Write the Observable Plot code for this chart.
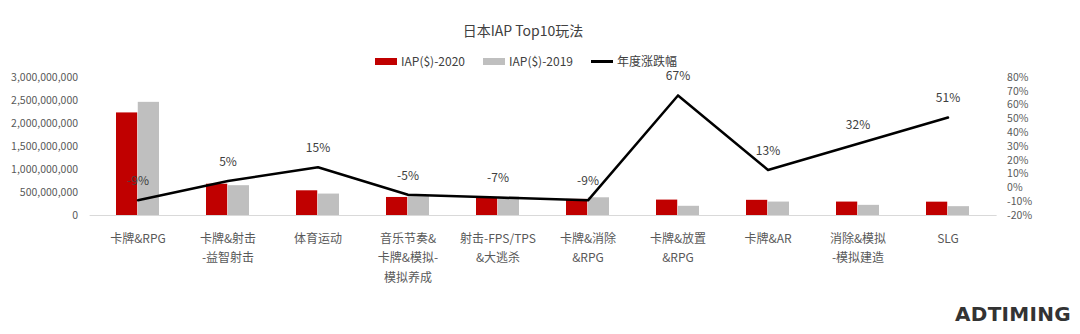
<!DOCTYPE html>
<html><head><meta charset="utf-8">
<script src="https://cdn.jsdelivr.net/npm/d3@7"></script>
<script src="https://cdn.jsdelivr.net/npm/@observablehq/plot@0.6"></script>
<style>
body{margin:0;background:#fff;font-family:"Noto Sans CJK SC","Noto Sans",sans-serif;}
#wrap{position:relative;width:1080px;height:334px;overflow:hidden;}
#title{position:absolute;left:0;top:20px;width:1046px;text-align:center;font-size:14px;line-height:20px;color:#404040;}
#legend{position:absolute;left:0;top:51px;width:1046px;display:flex;justify-content:center;align-items:center;font-size:12px;line-height:20px;color:#404040;padding-left:6px;box-sizing:border-box;z-index:2;}
.item{display:flex;align-items:center;margin:0 9px;}
.sw{display:inline-block;width:22px;height:7px;margin-right:4px;}
.ln{display:inline-block;width:22px;height:3px;background:#000;margin-right:4px;}
#chart{position:absolute;left:0;top:45px;z-index:1;}
#logo{position:absolute;left:955px;top:302px;font-size:20px;font-weight:bold;letter-spacing:0.3px;color:#333;font-family:"DejaVu Sans","Noto Sans",sans-serif;white-space:nowrap;}
</style></head>
<body><div id="wrap">
<div id="title">日本IAP Top10玩法</div>
<div id="legend">
  <span class="item"><span class="sw" style="background:#C00000"></span>IAP($)-2020</span>
  <span class="item"><span class="sw" style="background:#BFBFBF"></span>IAP($)-2019</span>
  <span class="item"><span class="ln"></span>年度涨跌幅</span>
</div>
<div id="chart"></div>
<div id="logo">ADTIMING</div>
</div>
<script>
const categories = ["卡牌&RPG", "卡牌&射击\n-益智射击", "体育运动", "音乐节奏&\n卡牌&模拟-\n模拟养成", "射击-FPS/TPS\n&大逃杀", "卡牌&消除\n&RPG", "卡牌&放置\n&RPG", "卡牌&AR", "消除&模拟\n-模拟建造", "SLG"];
const iap2020 = [2230e6, 680e6, 537e6, 392e6, 375e6, 350e6, 335e6, 330e6, 292e6, 290e6];
const iap2019 = [2460e6, 648e6, 466e6, 412e6, 402e6, 385e6, 200e6, 292e6, 221e6, 192e6];
const change = [-9, 5, 15, -5, -7, -9, 67, 13, 32, 51];
const leftTicks = [0, 500e6, 1000e6, 1500e6, 2000e6, 2500e6, 3000e6];
const pctTicks = [-20, -10, 0, 10, 20, 30, 40, 50, 60, 70, 80];

const data = categories.map((c, i) => ({cat: c, v2020: iap2020[i], v2019: iap2019[i], pct: change[i]}));
const yMax = 3000e6;
const toY = p => (p + 20) / 100 * yMax;

const W = 1080, H = 289, mL = 89.6, mR = 83.4;
const pin = 0.52, pout = 0.26;
const step = (W - mL - mR) / categories.length;
const half = step * (1 - pin) / 2;
const txt = "#595959";

const chart = Plot.plot({
  width: W, height: H,
  marginLeft: mL, marginRight: mR, marginTop: 32, marginBottom: 119,
  style: {fontFamily: '"Noto Sans CJK SC","Noto Sans",sans-serif', background: "transparent"},
  x: {domain: categories, paddingInner: pin, paddingOuter: pout, axis: null},
  y: {domain: [0, yMax], axis: null},
  marks: [
    Plot.ruleY([0], {stroke: "#D9D9D9"}),
    Plot.barY(data, {x: "cat", y: "v2020", fill: "#C00000", insetRight: half}),
    Plot.barY(data, {x: "cat", y: "v2019", fill: "#BFBFBF", insetLeft: half}),
    Plot.line(data, {x: "cat", y: d => toY(d.pct), stroke: "#000", strokeWidth: 2.5}),
    Plot.text(data, {x: "cat", y: d => toY(d.pct), text: d => d.pct + "%", dy: -19, fontSize: 12, fill: "#404040"}),
    Plot.axisY(leftTicks, {anchor: "left", tickSize: 0, tickPadding: 12, tickFormat: d3.format(","), fontSize: 10.5, color: txt, label: null}),
    Plot.axisY(pctTicks.map(toY), {anchor: "right", tickSize: 0, tickPadding: 10, tickFormat: d => Math.round(d / yMax * 100 - 20) + "%", fontSize: 10.5, color: txt, label: null}),
    Plot.axisX({anchor: "bottom", tickSize: 0, tickPadding: 13, fontSize: 12, lineHeight: 1.65, color: txt, label: null})
  ]
});
document.getElementById("chart").appendChild(chart);
</script>
</body></html>
